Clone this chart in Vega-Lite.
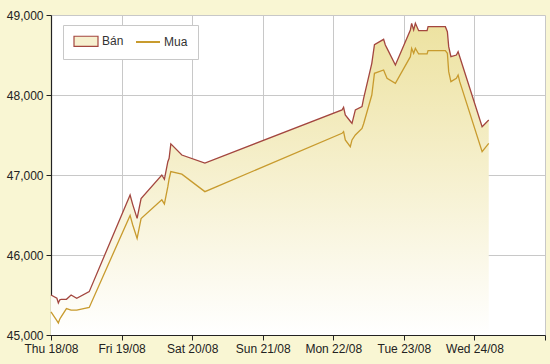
{
  "$schema": "https://vega.github.io/schema/vega-lite/v6.json",
  "width": 494,
  "height": 320,
  "autosize": {"type": "none"},
  "padding": {"left": 51, "top": 15, "right": 5, "bottom": 29},
  "background": "#F9F6D3",
  "config": {
    "view": {"fill": "white", "stroke": null},
    "font": "Liberation Sans",
    "axis": {
      "labelFont": "Liberation Sans",
      "labelFontSize": 12,
      "labelColor": "#222222",
      "gridColor": "#C8C8C8",
      "gridWidth": 1,
      "gridOpacity": 1,
      "domainColor": "#222222",
      "domainWidth": 1.2,
      "tickColor": "#222222",
      "tickSize": 5,
      "labelPadding": 3,
      "title": null
    }
  },
  "data": {
    "values": [
      {"t": "2016-08-18T00:00", "Bán": 45500, "Mua": 45290},
      {"t": "2016-08-18T02:00", "Bán": 45460, "Mua": 45180},
      {"t": "2016-08-18T02:30", "Bán": 45400, "Mua": 45150},
      {"t": "2016-08-18T03:00", "Bán": 45440, "Mua": 45200},
      {"t": "2016-08-18T03:30", "Bán": 45445, "Mua": 45230},
      {"t": "2016-08-18T05:15", "Bán": 45446, "Mua": 45330},
      {"t": "2016-08-18T06:50", "Bán": 45500, "Mua": 45310},
      {"t": "2016-08-18T08:45", "Bán": 45458, "Mua": 45310},
      {"t": "2016-08-18T13:00", "Bán": 45542, "Mua": 45345},
      {"t": "2016-08-19T02:54", "Bán": 46750, "Mua": 46495},
      {"t": "2016-08-19T03:48", "Bán": 46630, "Mua": 46375},
      {"t": "2016-08-19T05:17", "Bán": 46458, "Mua": 46208},
      {"t": "2016-08-19T06:38", "Bán": 46705, "Mua": 46455},
      {"t": "2016-08-19T13:41", "Bán": 47000, "Mua": 46690},
      {"t": "2016-08-19T14:34", "Bán": 46946, "Mua": 46638},
      {"t": "2016-08-19T15:44", "Bán": 47167, "Mua": 46854},
      {"t": "2016-08-19T16:10", "Bán": 47208, "Mua": 46950},
      {"t": "2016-08-19T16:45", "Bán": 47390, "Mua": 47042},
      {"t": "2016-08-19T20:30", "Bán": 47250, "Mua": 47010},
      {"t": "2016-08-20T04:20", "Bán": 47150, "Mua": 46792},
      {"t": "2016-08-22T02:58", "Bán": 47813, "Mua": 47521},
      {"t": "2016-08-22T03:30", "Bán": 47846, "Mua": 47542},
      {"t": "2016-08-22T04:05", "Bán": 47750, "Mua": 47438},
      {"t": "2016-08-22T05:47", "Bán": 47672, "Mua": 47354},
      {"t": "2016-08-22T06:22", "Bán": 47646, "Mua": 47438},
      {"t": "2016-08-22T07:30", "Bán": 47813, "Mua": 47500},
      {"t": "2016-08-22T09:46", "Bán": 47854, "Mua": 47583},
      {"t": "2016-08-22T10:19", "Bán": 47958, "Mua": 47640},
      {"t": "2016-08-22T13:06", "Bán": 48396, "Mua": 48000},
      {"t": "2016-08-22T14:00", "Bán": 48630, "Mua": 48271},
      {"t": "2016-08-22T17:07", "Bán": 48696, "Mua": 48313},
      {"t": "2016-08-22T17:42", "Bán": 48625, "Mua": 48260},
      {"t": "2016-08-22T18:17", "Bán": 48583, "Mua": 48208},
      {"t": "2016-08-22T21:07", "Bán": 48375, "Mua": 48146},
      {"t": "2016-08-23T02:13", "Bán": 48813, "Mua": 48479},
      {"t": "2016-08-23T02:39", "Bán": 48896, "Mua": 48583},
      {"t": "2016-08-23T03:20", "Bán": 48813, "Mua": 48521},
      {"t": "2016-08-23T03:55", "Bán": 48896, "Mua": 48583},
      {"t": "2016-08-23T05:02", "Bán": 48804, "Mua": 48513},
      {"t": "2016-08-23T07:54", "Bán": 48804, "Mua": 48513},
      {"t": "2016-08-23T08:14", "Bán": 48854, "Mua": 48554},
      {"t": "2016-08-23T14:07", "Bán": 48854, "Mua": 48554},
      {"t": "2016-08-23T14:48", "Bán": 48792, "Mua": 48521},
      {"t": "2016-08-23T15:15", "Bán": 48604, "Mua": 48292},
      {"t": "2016-08-23T16:00", "Bán": 48479, "Mua": 48167},
      {"t": "2016-08-23T17:52", "Bán": 48500, "Mua": 48208},
      {"t": "2016-08-23T18:27", "Bán": 48542, "Mua": 48250},
      {"t": "2016-08-23T19:00", "Bán": 48479, "Mua": 48167},
      {"t": "2016-08-24T02:37", "Bán": 47604, "Mua": 47292},
      {"t": "2016-08-24T04:52", "Bán": 47688, "Mua": 47396}
    ]
  },
  "encoding": {
    "x": {
      "field": "t",
      "type": "temporal",
      "scale": {"domain": [{"year": 2016, "month": 8, "date": 18}, {"year": 2016, "month": 8, "date": 25}]},
      "axis": {
        "values": [
          {"year": 2016, "month": 8, "date": 18},
          {"year": 2016, "month": 8, "date": 19},
          {"year": 2016, "month": 8, "date": 20},
          {"year": 2016, "month": 8, "date": 21},
          {"year": 2016, "month": 8, "date": 22},
          {"year": 2016, "month": 8, "date": 23},
          {"year": 2016, "month": 8, "date": 24},
          {"year": 2016, "month": 8, "date": 25}
        ],
        "labelExpr": "datum.value >= datetime(2016, 7, 25) ? '' : timeFormat(datum.value, '%a %d/%m')",
        "labelFlush": false,
        "labelOverlap": false
      }
    }
  },
  "layer": [
    {
      "mark": {
        "type": "area",
        "fill": {
          "gradient": "linear",
          "x1": 0, "y1": 0, "x2": 0, "y2": 1,
          "stops": [
            {"offset": 0, "color": "#EDE2A0"},
            {"offset": 1, "color": "#FFFFFF"}
          ]
        }
      },
      "encoding": {
        "y": {
          "field": "Bán",
          "type": "quantitative",
          "scale": {"domain": [45000, 49000], "zero": false, "nice": false},
          "axis": {"values": [45000, 46000, 47000, 48000, 49000], "format": ",.0f"}
        },
        "y2": {"datum": 45000}
      }
    },
    {
      "transform": [{"fold": ["Bán", "Mua"], "as": ["series", "price"]}],
      "mark": {"type": "line", "strokeWidth": 1.3},
      "encoding": {
        "y": {"field": "price", "type": "quantitative"},
        "color": {
          "field": "series",
          "type": "nominal",
          "scale": {"domain": ["Bán", "Mua"], "range": ["#A3463F", "#C89B2E"]},
          "legend": {
            "orient": "none",
            "legendX": 12,
            "legendY": 10,
            "direction": "horizontal",
            "title": null,
            "fillColor": "white",
            "strokeColor": "#C8C8C8",
            "padding": 10,
            "symbolType": "stroke",
            "symbolSize": 576,
            "symbolOffset": 7,
            "symbolStrokeWidth": 2,
            "labelFontSize": 12,
            "labelColor": "#333333",
            "labelOffset": 10,
            "columnPadding": 8,
            "encode": {
              "symbols": {
                "update": {
                  "shape": {"signal": "datum.value === 'Bán' ? 'M-1,-0.42H1V0.42H-1Z' : 'stroke'"},
                  "fill": {"signal": "datum.value === 'Bán' ? '#F6F0CF' : 'transparent'"},
                  "strokeWidth": {"signal": "datum.value === 'Bán' ? 1.2 : 2"}
                }
              }
            }
          }
        }
      }
    }
  ]
}
